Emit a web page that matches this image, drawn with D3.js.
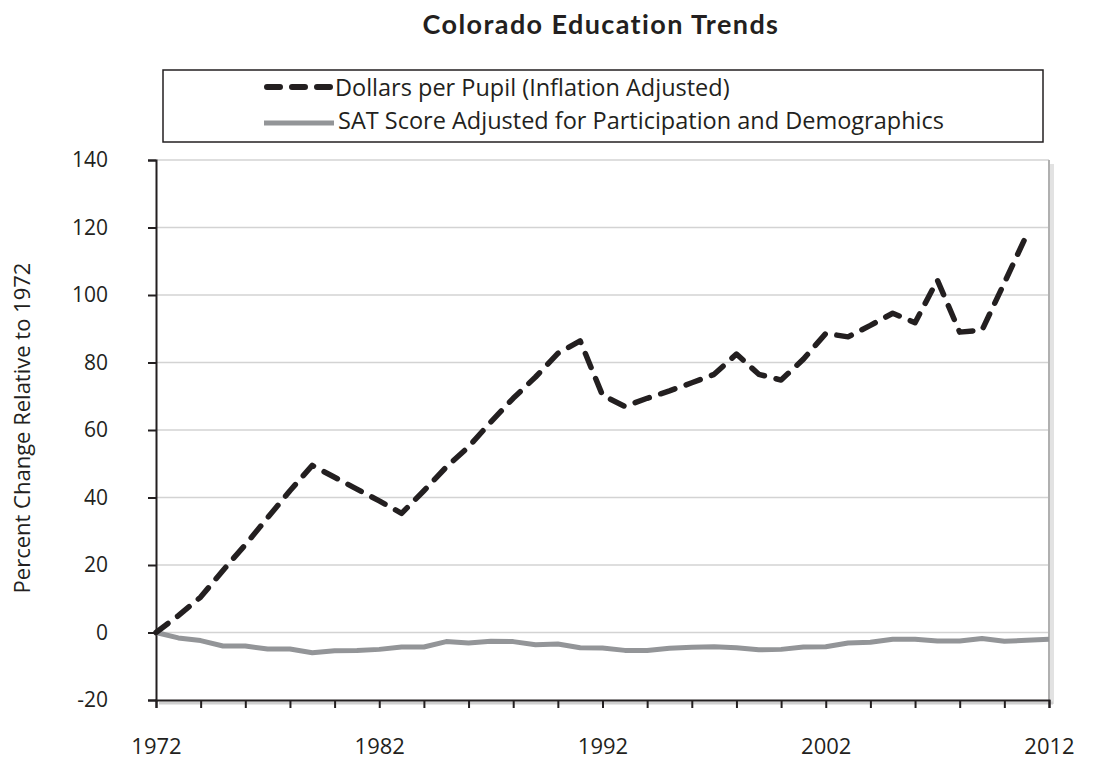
<!DOCTYPE html>
<html>
<head>
<meta charset="utf-8">
<script src="https://cdn.jsdelivr.net/npm/d3@7"></script>
<style>
  body { margin: 0; background: #fff; }
  text { font-family: "Open Sans", sans-serif; }
</style>
</head>
<body>
<svg id="chart" width="1093" height="763"></svg>
<script>
// years on the x axis
const years = d3.range(1972, 2013);
const labelYears = [1972, 1982, 1992, 2002, 2012];
const yTicks = [-20, 0, 20, 40, 60, 80, 100, 120, 140];

// percent change relative to 1972, 1972..2011
const dollars = [0, 5, 10.5, 18.4, 26, 34, 42, 49.5, 46, 42.5, 39, 35.3,
  42, 49, 55, 62.4, 69.4, 75.7, 82.7, 86.4, 70.3, 67, 69.4, 71.6, 74, 76.5,
  82.5, 76.5, 74.8, 81, 88.6, 87.6, 91, 94.6, 91.8, 104.4, 89, 89.6, 103.6, 117.8];

// 1972..2012
const sat = [0, -1.6, -2.4, -4, -4, -4.9, -4.9, -6, -5.4, -5.3, -5, -4.3, -4.3,
  -2.7, -3.1, -2.6, -2.7, -3.6, -3.4, -4.5, -4.6, -5.3, -5.3, -4.7, -4.4, -4.2,
  -4.5, -5.1, -5, -4.3, -4.2, -3.1, -2.9, -2, -2, -2.5, -2.5, -1.8, -2.6, -2.3, -2];

const seriesNames = ["Dollars per Pupil (Inflation Adjusted)",
  "SAT Score Adjusted for Participation and Demographics"];

const svg = d3.select("#chart");
const pLeft = 156, pRight = 1049, pTop = 160, pBottom = 700;

const x = d3.scaleLinear().domain([1972, 2012]).range([pLeft, pRight]);
const y = d3.scaleLinear().domain([-20, 140]).range([pBottom, pTop]);

// title
svg.append("text")
  .attr("x", 601).attr("y", 34)
  .attr("text-anchor", "middle")
  .style("font-family", "Lato, sans-serif")
  .style("font-weight", "bold")
  .style("font-size", "27px")
  .style("letter-spacing", "1.4px")
  .attr("fill", "#231f20")
  .text("Colorado Education Trends");

// gridlines
svg.append("g")
  .selectAll("line")
  .data(yTicks.filter(d => d > -20))
  .join("line")
  .attr("x1", pLeft).attr("x2", pRight)
  .attr("y1", d => y(d)).attr("y2", d => y(d))
  .attr("stroke", "#d3d3d3").attr("stroke-width", 1.5);

// right border with shadow
svg.append("line")
  .attr("x1", pRight + 3).attr("x2", pRight + 3)
  .attr("y1", pTop + 4).attr("y2", pBottom + 4)
  .attr("stroke", "#e2e2e2").attr("stroke-width", 4);
svg.append("line")
  .attr("x1", pRight).attr("x2", pRight)
  .attr("y1", pTop).attr("y2", pBottom)
  .attr("stroke", "#b0b0b0").attr("stroke-width", 2);

// bottom axis shadow
svg.append("line")
  .attr("x1", pLeft + 3).attr("x2", pRight + 4)
  .attr("y1", pBottom + 3).attr("y2", pBottom + 3)
  .attr("stroke", "#cfcfcf").attr("stroke-width", 3);

// y axis
const yAxis = d3.axisLeft(y)
  .tickValues(yTicks)
  .tickSize(8)
  .tickPadding(40)
  .tickFormat(d => String(d));
const gy = svg.append("g")
  .attr("transform", `translate(${pLeft},0)`)
  .call(yAxis);
gy.select(".domain").attr("stroke", "#231f20").attr("stroke-width", 2);
gy.selectAll(".tick line").attr("stroke", "#231f20").attr("stroke-width", 2);
gy.selectAll(".tick text")
  .style("font-size", "21px").attr("fill", "#231f20");

// x axis
const xAxis = d3.axisBottom(x)
  .tickValues(d3.range(1972, 2013, 2))
  .tickSize(8)
  .tickPadding(30)
  .tickFormat(d => labelYears.includes(d) ? d : "");
const gx = svg.append("g")
  .attr("transform", `translate(0,${pBottom})`)
  .call(xAxis);
gx.select(".domain").attr("stroke", "#231f20").attr("stroke-width", 2);
gx.selectAll(".tick line").attr("stroke", "#231f20").attr("stroke-width", 2);
gx.selectAll(".tick text")
  .style("font-size", "22px").attr("fill", "#231f20");

// y title
svg.append("text")
  .attr("transform", "translate(22,428) rotate(-90)")
  .attr("text-anchor", "middle")
  .attr("dy", "0.35em")
  .style("font-size", "22px")
  .attr("fill", "#231f20")
  .text("Percent Change Relative to 1972");

// lines
const line = d3.line()
  .x((d, i) => x(years[i]))
  .y(d => y(d));

svg.append("path")
  .datum(sat)
  .attr("d", line)
  .attr("fill", "none")
  .attr("stroke", "#939598")
  .attr("stroke-width", 5)
  .attr("stroke-linejoin", "round");

svg.append("path")
  .datum(dollars)
  .attr("d", line)
  .attr("fill", "none")
  .attr("stroke", "#231f20")
  .attr("stroke-width", 5.5)
  .attr("stroke-linecap", "round")
  .attr("stroke-linejoin", "round")
  .attr("stroke-dasharray", "15,12");

// legend
const lg = svg.append("g");
lg.append("rect")
  .attr("x", 163).attr("y", 70)
  .attr("width", 880).attr("height", 72)
  .attr("fill", "#fff")
  .attr("stroke", "#231f20").attr("stroke-width", 1.5);

lg.append("line")
  .attr("x1", 267).attr("x2", 330)
  .attr("y1", 87).attr("y2", 87)
  .attr("stroke", "#231f20").attr("stroke-width", 6)
  .attr("stroke-linecap", "round")
  .attr("stroke-dasharray", "13,12");
lg.append("line")
  .attr("x1", 264).attr("x2", 334)
  .attr("y1", 123).attr("y2", 123)
  .attr("stroke", "#939598").attr("stroke-width", 5);

lg.selectAll("text.leg")
  .data(seriesNames)
  .join("text")
  .attr("class", "leg")
  .attr("x", (d, i) => i === 0 ? 335 : 338)
  .attr("y", (d, i) => 96 + i * 33)
  .style("font-size", "23.5px")
  .attr("fill", "#231f20")
  .text(d => d);
</script>
</body>
</html>
